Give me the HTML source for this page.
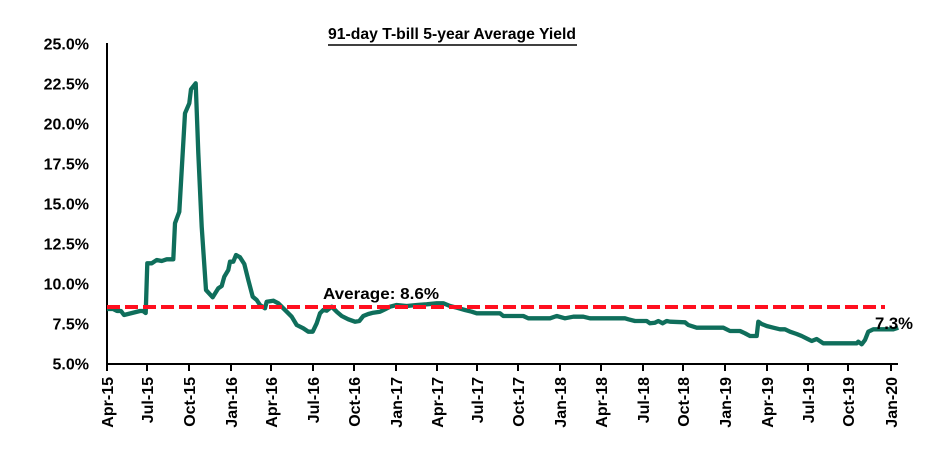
<!DOCTYPE html>
<html><head><meta charset="utf-8"><style>
html,body{margin:0;padding:0;background:#fff;}
svg{display:block;}
text{font-family:"Liberation Sans",Arial,sans-serif;font-weight:bold;fill:#000;}
</style></head><body>
<svg width="936" height="450" viewBox="0 0 936 450" xmlns="http://www.w3.org/2000/svg">
<rect width="936" height="450" fill="#fff"/>
<!-- title -->
<text x="452" y="39" font-size="16" text-anchor="middle" textLength="248" lengthAdjust="spacingAndGlyphs">91-day T-bill 5-year Average Yield</text>
<line x1="328" y1="45" x2="577" y2="45" stroke="#000" stroke-width="1.5"/>
<!-- y labels -->
<g font-size="16" text-anchor="end">
<text x="89" y="49.5">25.0%</text>
<text x="89" y="89.5">22.5%</text>
<text x="89" y="129.5">20.0%</text>
<text x="89" y="169.5">17.5%</text>
<text x="89" y="209.5">15.0%</text>
<text x="89" y="249.5">12.5%</text>
<text x="89" y="289.5">10.0%</text>
<text x="89" y="329.5">7.5%</text>
<text x="89" y="369.5">5.0%</text>
</g>
<!-- axes -->
<line x1="107" y1="43" x2="107" y2="365" stroke="#000" stroke-width="2"/>
<line x1="106" y1="364" x2="898" y2="364" stroke="#000" stroke-width="2"/>
<g stroke="#000" stroke-width="2">
<line x1="107" y1="364" x2="107" y2="371"/>
<line x1="147" y1="364" x2="147" y2="371"/>
<line x1="189" y1="364" x2="189" y2="371"/>
<line x1="231" y1="364" x2="231" y2="371"/>
<line x1="271" y1="364" x2="271" y2="371"/>
<line x1="313" y1="364" x2="313" y2="371"/>
<line x1="354" y1="364" x2="354" y2="371"/>
<line x1="396" y1="364" x2="396" y2="371"/>
<line x1="437" y1="364" x2="437" y2="371"/>
<line x1="477" y1="364" x2="477" y2="371"/>
<line x1="518" y1="364" x2="518" y2="371"/>
<line x1="560" y1="364" x2="560" y2="371"/>
<line x1="601" y1="364" x2="601" y2="371"/>
<line x1="643" y1="364" x2="643" y2="371"/>
<line x1="683" y1="364" x2="683" y2="371"/>
<line x1="725" y1="364" x2="725" y2="371"/>
<line x1="767" y1="364" x2="767" y2="371"/>
<line x1="808" y1="364" x2="808" y2="371"/>
<line x1="848" y1="364" x2="848" y2="371"/>
<line x1="891" y1="364" x2="891" y2="371"/>
</g>
<!-- x labels -->
<g font-size="16" text-anchor="end">
<text transform="translate(113,377) rotate(-90)">Apr-15</text>
<text transform="translate(153,377) rotate(-90)">Jul-15</text>
<text transform="translate(195,377) rotate(-90)">Oct-15</text>
<text transform="translate(237,377) rotate(-90)">Jan-16</text>
<text transform="translate(277,377) rotate(-90)">Apr-16</text>
<text transform="translate(319,377) rotate(-90)">Jul-16</text>
<text transform="translate(360,377) rotate(-90)">Oct-16</text>
<text transform="translate(402,377) rotate(-90)">Jan-17</text>
<text transform="translate(443,377) rotate(-90)">Apr-17</text>
<text transform="translate(483,377) rotate(-90)">Jul-17</text>
<text transform="translate(524,377) rotate(-90)">Oct-17</text>
<text transform="translate(566,377) rotate(-90)">Jan-18</text>
<text transform="translate(607,377) rotate(-90)">Apr-18</text>
<text transform="translate(649,377) rotate(-90)">Jul-18</text>
<text transform="translate(689,377) rotate(-90)">Oct-18</text>
<text transform="translate(731,377) rotate(-90)">Jan-19</text>
<text transform="translate(773,377) rotate(-90)">Apr-19</text>
<text transform="translate(814,377) rotate(-90)">Jul-19</text>
<text transform="translate(854,377) rotate(-90)">Oct-19</text>
<text transform="translate(897,377) rotate(-90)">Jan-20</text>
</g>
<!-- series -->
<polyline fill="none" stroke="#0f6e5b" stroke-width="4.3" stroke-linejoin="round" points="
107,309 113,309 117,311 121,311 124,315 128,314 132,313 136,312 140,311 143,311 145.7,313
147.3,263.3 151.7,263.3 156.7,260 161.7,261 166.7,259.3 173.3,259.3 175,223.3 179.3,211.7
185,113.3 189.3,103.3 191,89.3 195.7,83.3 198.3,153 201.7,226.7 206,290 212.7,297.3
218.3,288.3 221.7,286 224.3,276.7 228.3,270 230,261.7 233.3,261.7 236,255 240,257.3
244.3,264 248.3,280 252.7,296.7 256.7,300 260,305 265,308.3 266.7,301.7 273.3,300.7
278.3,303.3 281.7,306.7 286.7,311.7 291.7,316.7 296.7,325 303.3,328.3 308.3,331.7
312.7,331.7 316.7,323.3 320,313.3 323.3,310 326.7,310.7 331.7,306.7 336.7,311.7
341.7,316 348.3,319.3 355,321.7 359.3,321 363.3,316 368.3,314 373.3,312.7 380,311.7
385,309.3 390,306.7 396.7,305 406.7,306 416.7,305 426.7,304.3 436.7,303.3 443.3,303.3
450,306 456.7,307.7 465,310 471.7,311.7 476.7,313.3 500,313.3 503.3,316 523.3,316
528.3,318.3 550,318.3 556.7,316 565,318.3 573.3,316.7 583.3,316.7 590,318.3 625,318.3
628.3,319.3 635,321 646.7,321 650,323.3 655,322.7 658.3,321 662.7,323.3 666.7,321
670,321.7 685,322.3 688.3,325 696.7,327.7 723.3,327.7 730,331 740,331 745,333.3 750,336
756.7,336 758.3,321.7 761.7,324 766.7,326 773.3,327.7 780,329.3 785,329.3 790,331.7
796.7,334 801.7,336 808.3,339.3 811.7,341 816.7,339 823.3,343.3 856.7,343.3 858.3,341.7
861.7,344.3 865,340 868.3,331.7 873.3,329.3 893.3,329.3 898.3,327.7"/>
<!-- average line -->
<line x1="107" y1="307" x2="885" y2="307" stroke="#ff0f1f" stroke-width="4" stroke-dasharray="13 5"/>
<text x="323" y="299" font-size="16" textLength="116" lengthAdjust="spacingAndGlyphs">Average: 8.6%</text>
<text x="875" y="329" font-size="17" textLength="38" lengthAdjust="spacingAndGlyphs">7.3%</text>
</svg>
</body></html>
